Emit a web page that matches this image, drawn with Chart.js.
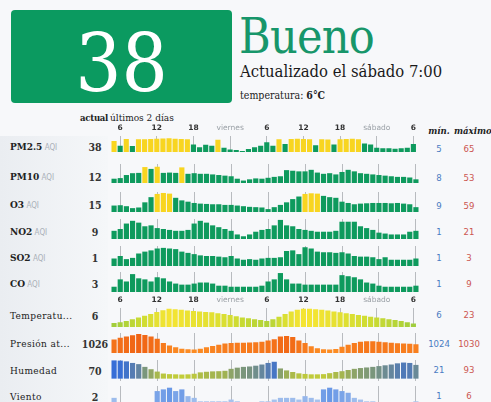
<!DOCTYPE html>
<html lang="es"><head><meta charset="utf-8">
<script src="https://cdn.jsdelivr.net/npm/chart.js@4.4.1/dist/chart.umd.min.js"></script>
<style>
html,body{margin:0;padding:0;}
body{width:491px;height:402px;overflow:hidden;background:#f7f8fa;position:relative;
 font-family:"DejaVu Serif Condensed","DejaVu Serif",serif;font-stretch:condensed;color:#222;}
.abs{position:absolute;white-space:nowrap;}
#panel{position:absolute;left:0;top:136px;width:108px;height:270px;background:linear-gradient(to right,#eaedf1,#f5f7f9);}
#box{position:absolute;left:11px;top:10px;width:221px;height:93px;background:#0b9a60;border-radius:4px;color:#fff;
 font-size:81px;line-height:106px;text-align:center;overflow:hidden;}
canvas{position:absolute;}
</style></head><body>
<div id="panel"></div>
<div id="box"></div>
<div id="layer"></div>
<script>
// ---- data ----
const overallAQI = 38;
const statusText = 'Bueno';
const updatedText = 'Actualizado el sábado 7:00';
const tempNow = '6°C';
const hours = [5,6,7,8,9,10,11,12,13,14,15,16,17,18,19,20,21,22,23,
  0,1,2,3,4,5,6,7,8,9,10,11,12,13,14,15,16,17,18,19,20,21,22,23,
  0,1,2,3,4,5,6];
const dayNames = ['viernes','sábado'];
const rowNames = ['PM2.5','PM10','O3','NO2','SO2','CO','Temperatu...','Presión at...','Humedad','Viento'];
const currentValues = [38,12,15,9,1,3,6,1026,70,2];
const minValues = [5,8,9,1,1,1,6,1024,21,1];
const maxValues = [65,53,59,21,3,9,23,1030,93,6];

const pm25 = [52,30,62,28,60,61,62,63,64,65,63,62,60,36,22,34,30,58,20,12,10,5,14,22,30,46,30,60,38,62,63,62,61,32,60,59,36,60,62,63,60,40,36,20,18,18,16,18,20,38];
const pm10 = [14,16,26,32,33,52,46,53,33,34,33,51,30,32,30,30,28,26,24,22,14,8,12,15,14,17,20,22,42,40,38,38,43,34,30,32,28,36,43,38,32,30,28,26,24,22,20,20,18,12];
const o3 = [20,21,18,12,14,30,46,56,59,57,44,36,32,28,26,25,24,24,22,22,20,18,16,15,14,9,15,22,30,40,48,56,58,57,50,46,44,32,28,24,26,27,28,28,28,27,28,26,24,15];
const no2 = [9,11,17,20,18,14,15,12,11,10,9,9,10,17,20,18,15,13,11,9,5,3,5,8,10,11,15,21,15,14,11,10,9,8,8,8,9,19,19,19,14,12,10,7,6,5,5,5,8,9];
const so2 = [1.2,1.6,1.1,1.3,2.0,2.3,2.5,2.8,2.9,2.8,2.7,2.3,2.1,1.9,1.7,1.6,1.6,1.5,1.4,1.6,1.2,1.0,1.1,1.0,1.2,1.3,1.3,1.4,2.4,2.5,1.9,3.0,2.8,2.3,2.2,2.2,2.1,2.2,2.0,1.6,1.5,1.5,1.4,1.1,1.4,1.0,1.0,1.0,1.0,1.2];
const co = [2.5,6,5,8.5,6.5,6,5,7,6.5,5,4,3.5,3.5,4,4.5,4.5,4,3,3,2.5,2.5,2.5,2.5,2.5,3,5,6,9,6,4,4,3.5,3.5,3.5,3.5,3.5,3.5,8,7.5,7,6,4.5,4,3,2.5,2.5,2.5,2.5,2.5,3];
const temperature = [6.5,7.5,9,11,13,15,17,19.5,21.5,23,22.5,22,21,20.5,20,19.5,19,18,17,16,14.5,13,12,11,10,9,11,14,17,20,22,23,23,22.5,22,21,20,19,18,17,16,15,14,13,12,11,10,9,7.5,6];
const pressure = [1027.9,1028.5,1029,1029.5,1030,1029.6,1029,1028.2,1026.5,1025.5,1024.8,1024.3,1024.1,1024,1024.3,1024.8,1025.3,1025.8,1026.3,1026.5,1026.6,1026.6,1026.7,1026.8,1027,1027.5,1028,1029,1029.2,1028.8,1027.5,1026.5,1025.2,1024.5,1024.1,1024,1024.2,1025,1025.8,1026.5,1027,1027.2,1027.2,1027,1026.8,1026.6,1026.4,1026.3,1026.2,1026];
const humidity = [93,92,88,80,74,60,48,36,26,23,22,21,22,25,32,35,37,38,40,50,56,60,62,66,72,80,86,52,42,34,27,24,22,22,23,28,34,38,44,50,54,57,60,64,68,72,78,82,80,70];
const wind = [3,1,1,1.5,1.5,1.5,1.5,5,5.5,6,5,5.5,3.5,3,2,2,2,2,2,2.5,2,1.5,1.5,1.5,2,2,2.5,3,3,3,2.5,3.5,3,2.5,5.5,6,5.5,5,4.5,3,2.5,2,2,1.5,1.5,1.5,1.5,1.5,1.5,2];

// ---- styling / layout ----
const SERIF = '"DejaVu Serif Condensed","DejaVu Serif",serif';
const SANS = '"DejaVu Sans",sans-serif';
const GREEN = '#0e9a5d', YELLOW = '#f8d520';
const aqiColor = v => v > 50 ? YELLOW : GREEN;
function lerpStops(stops, v){
  if (v <= stops[0][0]) return stops[0][1];
  for (let i=1;i<stops.length;i++){
    if (v <= stops[i][0]){
      const [a,ca]=stops[i-1],[b,cb]=stops[i];const t=(v-a)/(b-a);
      return ca.map((c,k)=>Math.round(c+(cb[k]-c)*t));
    }
  }
  return stops[stops.length-1][1];
}
const rgb = c => `rgb(${c[0]},${c[1]},${c[2]})`;
const tempColor = v => rgb(lerpStops([[6,[160,205,60]],[14,[205,220,50]],[23,[244,228,50]]],v));
const presColor = v => rgb(lerpStops([[1024,[252,140,35]],[1030,[240,100,20]]],v));
const humColor = v => rgb(lerpStops([[20,[196,206,55]],[40,[160,178,82]],[60,[122,150,124]],[75,[96,130,165]],[93,[55,110,215]]],v));
const windColor = v => rgb(lerpStops([[1,[192,212,240]],[6,[105,152,230]]],v));

let zc = 0;
const tickText = hours.map(h => h % 6 !== 0 ? '' : (h === 0 ? dayNames[zc++] : String(h)));

const rows = [
  {data:pm25, color:aqiColor, top:121, h:31, labels:true, ymin:0, ymax:76, cy:147, mcy:149},
  {data:pm10, color:aqiColor, top:164, h:19, ymin:0, ymax:62, cy:177, mcy:178},
  {data:o3, color:aqiColor, top:192, h:20, ymin:0, ymax:62, cy:205, mcy:206},
  {data:no2, color:aqiColor, top:219, h:20, ymin:0, ymax:22, cy:232, mcy:232},
  {data:so2, color:aqiColor, top:246, h:20, ymin:0, ymax:3.2, cy:258, mcy:258},
  {data:co, color:aqiColor, top:272, h:20, ymin:0, ymax:9.5, cy:284, mcy:284},
  {data:temperature, color:tempColor, top:293, h:34, labels:true, ymin:2, ymax:24, cy:316, mcy:315},
  {data:pressure, color:presColor, top:333, h:20, ymin:1022.6, ymax:1030.4, cy:344, mcy:344},
  {data:humidity, color:humColor, top:360, h:21, ymin:-12, ymax:95, cy:371, mcy:370},
  {data:wind, color:windColor, top:386, h:22, ymin:0, ymax:6.5, cy:397, mcy:396},
];

const layer = document.getElementById('layer');
function txt(s, x, cy, css, align){
  const d = document.createElement('div');
  d.className='abs';
  d.textContent = s;
  d.style.cssText += `left:${x}px;top:${cy-8}px;line-height:16px;height:16px;` + (css||'');
  if (align==='center') d.style.transform='translateX(-50%)';
  if (align==='right') d.style.transform='translateX(-100%)';
  layer.appendChild(d);
  return d;
}
document.getElementById('box').textContent = overallAQI;
// header
txt(statusText, 239, 34, `font-size:48px;line-height:50px;height:50px;top:11px;color:#17966a;letter-spacing:-0.8px;`);
txt(updatedText, 240, 72, 'font-size:16.5px;color:#1a1a1a;');
const tp = txt('temperatura: ', 240, 95, 'font-size:10.5px;color:#222;');
const b = document.createElement('b'); b.textContent = tempNow; tp.appendChild(b);
txt('actual', 108, 118, 'font-size:9.5px;font-weight:bold;color:#222;letter-spacing:-0.3px;', 'right');
txt('últimos 2 días', 110, 118, 'font-size:10px;color:#222;');
txt('mín.', 439, 131, 'font-size:9.5px;font-weight:bold;font-style:italic;color:#222;', 'center');
txt('máximo', 454, 131, 'font-size:9.5px;font-weight:bold;font-style:italic;color:#222;');

rows.forEach((r, i) => {
  if (i < 6) {
    const d = txt(rowNames[i], 10, r.cy, 'font-size:10px;font-weight:bold;color:#222;');
    const s = document.createElement('span');
    s.textContent = ' AQI';
    s.style.cssText = `font-family:${SANS};font-size:8px;font-weight:normal;color:#aab0b8;`;
    d.appendChild(s);
  } else {
    txt(rowNames[i], 10, r.cy, 'font-size:10px;color:#222;letter-spacing:0.4px;');
  }
  txt(String(currentValues[i]), 95, r.cy, 'font-size:10.5px;font-weight:bold;color:#333;', 'center');
  txt(String(minValues[i]), 439, r.mcy, `font-family:${SANS};font-size:9.5px;color:#4a7cc2;`, 'center');
  txt(String(maxValues[i]), 469, r.mcy, `font-family:${SANS};font-size:9.5px;color:#cc5650;`, 'center');

  const c = document.createElement('canvas');
  c.width = 308; c.height = r.h;
  c.style.left = '111px'; c.style.top = r.top + 'px';
  c.style.width = '308px'; c.style.height = r.h + 'px';
  document.body.appendChild(c);
  new Chart(c, {
    type: 'bar',
    data: { labels: hours.map(String), datasets: [{ data: r.data, backgroundColor: r.data.map(r.color), borderWidth: 0, barPercentage: 1, categoryPercentage: 0.84 }] },
    options: {
      responsive: false, animation: false, devicePixelRatio: 1,
      layout: { padding: 0 },
      plugins: { legend: { display: false }, tooltip: { enabled: false } },
      scales: {
        x: {
          position: 'top', offset: true,
          border: { display: false },
          grid: { offset: false, drawTicks: false, lineWidth: 1,
                  color: ctx => (hours[ctx.index] % 6 === 0 ? '#b8bbbf' : 'rgba(0,0,0,0)') },
          ticks: { display: !!r.labels, autoSkip: false, maxRotation: 0, padding: 3,
                   callback: (v, idx) => tickText[idx],
                   font: ctx => ({ family: SANS, size: 7.5, weight: (ctx.tick && /^\d+$/.test(ctx.tick.label)) ? 'bold' : 'normal' }),
                   color: ctx => (ctx.tick && /^\d+$/.test(ctx.tick.label)) ? '#333' : '#9aa0a6' }
        },
        y: { display: false, min: r.ymin, max: r.ymax }
      }
    }
  });
});
</script>
</body></html>
